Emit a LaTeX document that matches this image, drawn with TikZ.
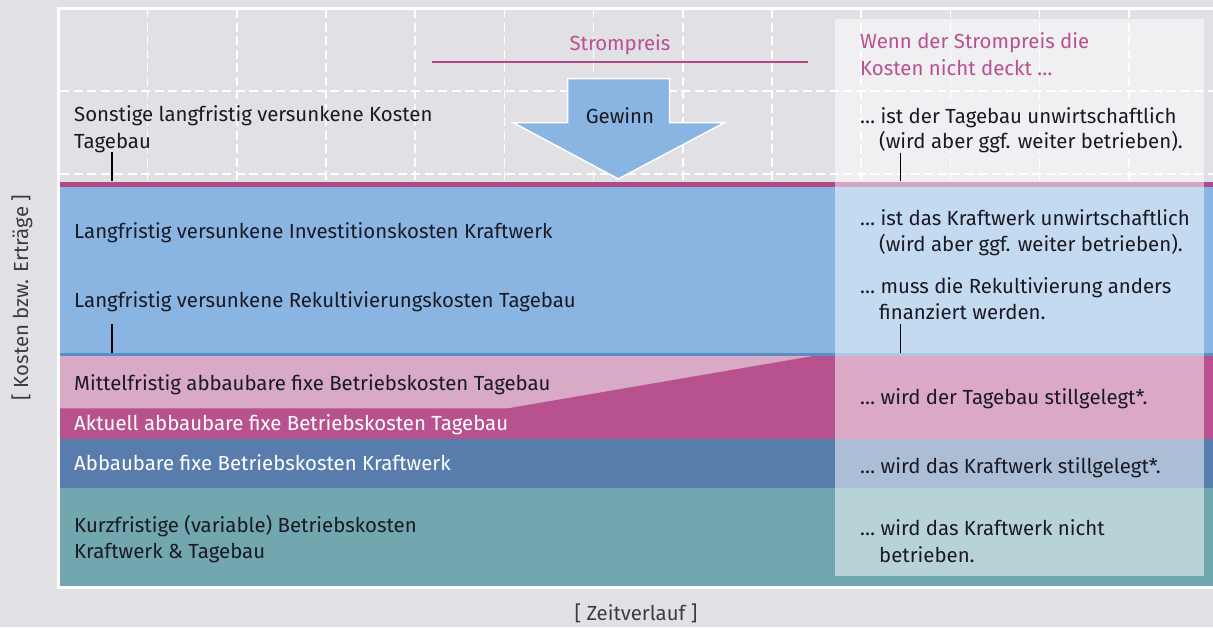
\documentclass[tikz,border=0pt]{standalone}
\usepackage{fontspec}
\setmainfont{Fira Sans}
\definecolor{bg}{HTML}{E1E0E5}
\definecolor{skyband}{HTML}{8AB5E2}
\definecolor{skyedge}{HTML}{5B8FC2}
\definecolor{roseband}{HTML}{D8AAC5}
\definecolor{magband}{HTML}{B8528E}
\definecolor{magline}{HTML}{AE4A86}
\definecolor{navyband}{HTML}{587DAD}
\definecolor{tealband}{HTML}{72A7AF}
\definecolor{ink}{HTML}{1A1A24}
\begin{document}
\begin{tikzpicture}[x=1pt,y={(0pt,-1pt)},
  lbl/.style={font=\fontsize{20.4}{24}\selectfont, inner sep=0pt, anchor=base west, text=ink},
  lblw/.style={lbl, text=white},
  lblm/.style={lbl, text=magband},
  gridline/.style={white, line width=1.6pt, dash pattern=on 9pt off 4.5pt},
  tick/.style={black, line width=1.5pt}]
% canvas
\fill[bg] (0,0) rectangle (1213,627);
\useasboundingbox (0,0) rectangle (1213,627);

% dashed grid in the upper area
\foreach \i in {0,...,11}
  \draw[gridline] (147.5+89.2*\i,9) -- (147.5+89.2*\i,182);
\draw[gridline] (60,90.7) -- (1213,90.7);
\draw[gridline] (60,174) -- (1213,174);

% cost bands
\fill[magline] (60,182.3) rectangle (1213,186.7);
\fill[skyband] (60,186.7) rectangle (1213,353.3);
\fill[skyedge] (60,353.3) rectangle (1213,356);
\fill[roseband] (60,356) rectangle (1213,439.3);
\fill[magband] (60,408.3) -- (508,408.3) -- (813,356) -- (1213,356) -- (1213,439.3) -- (60,439.3) -- cycle;
\fill[navyband] (60,439.3) rectangle (1213,487.7);
\fill[tealband] (60,487.7) rectangle (1213,585.7);

% white frame
\draw[white, line width=3pt] (1225,8.2) -- (58.8,8.2) -- (58.8,587.5) -- (1225,587.5);

% electricity price and profit arrow
\node[lblm, anchor=base] (preis) at (620,50) {Strompreis};
\coordinate (pl) at (432,62.3);
\coordinate (pr) at (808,62.3);
\draw[magline, line width=2.2pt] (pl) -- (pr);
\fill[skyband, draw=white, line width=1.5pt, line join=miter]
  (567.5,78.5) -- (669.5,78.5) -- (669.5,122.7) -- (724.5,122.7) -- (618.3,179)
  -- (513.3,122.7) -- (567.5,122.7) -- cycle;
\node[lbl, anchor=base] (gewinn) at (620,123.3) {Gewinn};

% band labels
\node[lbl] (s1) at (74,121.7) {Sonstige langfristig versunkene Kosten};
\node[lbl] (s2) at (74,148) {Tagebau};
\node[lbl] (inv) at (74,238) {Langfristig versunkene Investitionskosten Kraftwerk};
\node[lbl] (rek) at (74,307) {Langfristig versunkene Rekultivierungskosten Tagebau};
\node[lbl] (mit) at (74,390.7) {Mittelfristig abbaubare fixe Betriebskosten Tagebau};
\node[lblw] (akt) at (74,430.7) {Aktuell abbaubare fixe Betriebskosten Tagebau};
\node[lblw] (abb) at (74,470) {Abbaubare fixe Betriebskosten Kraftwerk};
\node[lbl] (k1) at (74,532) {Kurzfristige (variable) Betriebskosten};
\node[lbl] (k2) at (74,558.5) {Kraftwerk \& Tagebau};

% translucent consequence panel
\fill[white, fill opacity=0.5] (835,19.3) rectangle (1204.3,575.7);

\node[lblm] (w1) at (860,48.3) {Wenn der Strompreis die};
\node[lblm] (w2) at (860,75) {Kosten nicht deckt …};
\node[lbl] (r1a) at (860,123) {… ist der Tagebau unwirtschaftlich};
\node[lbl] (r1b) at (879,148.5) {(wird aber ggf. weiter betrieben).};
\node[lbl] (r2a) at (860,225) {… ist das Kraftwerk unwirtschaftlich};
\node[lbl] (r2b) at (879,251.5) {(wird aber ggf. weiter betrieben).};
\node[lbl] (r3a) at (860,293) {… muss die Rekultivierung anders};
\node[lbl] (r3b) at (879,319) {finanziert werden.};
\node[lbl] (r4) at (860,404) {… wird der Tagebau stillgelegt*.};
\node[lbl] (r5) at (860,473) {… wird das Kraftwerk stillgelegt*.};
\node[lbl] (r6a) at (860,535) {… wird das Kraftwerk nicht};
\node[lbl] (r6b) at (879,562.7) {betrieben.};

% boundary ticks
\draw[tick] (112,152) -- (112,181);
\draw[tick] (112,324) -- (112,353);
\draw[tick] (900.7,152.7) -- (900.7,181);
\draw[tick] (900.7,324) -- (900.7,353);

% axis titles
\node[lbl, anchor=center, rotate=90, text=ink!85] (ylab) at (22,297.5) {[ Kosten bzw. Erträge ]};
\node[lbl, anchor=base, text=ink!85] (xlab) at (636,620) {[ Zeitverlauf ]};
\end{tikzpicture}
\end{document}
